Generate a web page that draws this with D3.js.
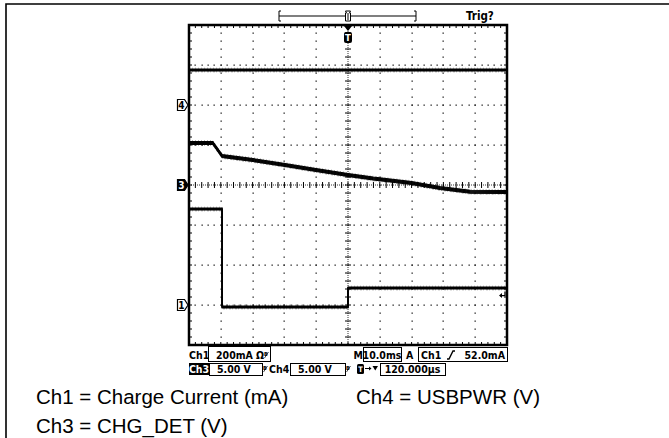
<!DOCTYPE html>
<html><head><meta charset="utf-8">
<script src="https://cdn.jsdelivr.net/npm/d3@7"></script>
<style>
html,body{margin:0;padding:0;background:#fff;}
svg{display:block;}
.ro{font-family:"DejaVu Sans Condensed","DejaVu Sans","Liberation Sans",sans-serif;font-stretch:condensed;font-weight:bold;}
.lg{font-family:"Liberation Sans",Arial,sans-serif;font-size:20.5px;fill:#000;}
</style></head>
<body>
<script>
// ---- data ----
const timeDomain = [-50, 50];            // ms, 10 ms/div, trigger at centre
// Ch1: charge current (mA), 200 mA/div, ground marker 3 div below centre
const ch1Time = [-50, -39.6, -39.6, 0, 0, 50];
const ch1Vals = [480, 480, -10, -10, 85, 85];
// Ch3: CHG_DET (V), 5 V/div, ground marker at centre
const ch3Time = [-50, -42.5, -39.6, -29.9, -19.8, -10.1, 0, 7.9, 20, 28.9, 38.4, 50];
const ch3Vals = [5.25, 5.25, 3.62, 3.12, 2.5, 1.87, 1.25, 0.81, 0.25, -0.37, -0.84, -0.87];
// Ch4: USBPWR (V), 5 V/div, ground marker 2 div above centre
const ch4Time = [-50, 50];
const ch4Vals = [4.375, 4.375];
const channelOffsets = {ch1: -3, ch3: 0, ch4: 2};  // divisions
const channelScales = {ch1: 200, ch3: 5, ch4: 5};  // units per div
const triggerLevel = 52; // mA on Ch1
const readRow1 = ["Ch1", "200mA", "M", "10.0ms", "A", "Ch1", "52.0mA"];
const readRow2 = ["Ch3", "5.00 V", "Ch4", "5.00 V", "120.000µs"];
const legendLines = [["Ch1 = Charge Current (mA)", "Ch4 = USBPWR (V)"], ["Ch3 = CHG_DET (V)"]];

// ---- layout ----
const W = 669, H = 438;
const L = 189, R = 507, T = 25, B = 345;
const svg = d3.select("body").append("svg").attr("width", W).attr("height", H);
svg.append("rect").attr("width", W).attr("height", H).attr("fill", "#fff");

const x = d3.scaleLinear().domain(timeDomain).range([L, R]);
const yDiv = d3.scaleLinear().domain([-4, 4]).range([B, T]);
const yCh = ch => v => yDiv(channelOffsets[ch] + v / channelScales[ch]);

// outer frame
svg.append("path").attr("d", `M6,${H} L6,4 L${W},4`).attr("fill", "none").attr("stroke", "#000").attr("stroke-width", 1.6);

const g = svg.append("g");
// grid dots
const divX = d3.range(-50, 51, 10), divY = d3.range(-4, 5, 1);
const dots = [];
divX.forEach(t => {
  if (t === -50 || t === 50 || t === 0) return;
  d3.range(-4, 4.01, 0.2).forEach(d => dots.push([x(t), yDiv(d)]));
});
divY.forEach(d => {
  if (d === -4 || d === 4 || d === 0) return;
  d3.range(-50, 50.01, 2).forEach(t => dots.push([x(t), yDiv(d)]));
});
g.selectAll("rect.dot").data(dots).join("rect").attr("class", "dot")
  .attr("x", d => Math.round(d[0]) - 0.5).attr("y", d => Math.round(d[1]) - 0.5)
  .attr("width", 1.3).attr("height", 1.3).attr("fill", "#222");

// centre axes: fine dotted line + minor ticks
const cx = x(0), cy = yDiv(0);
g.append("line").attr("x1", cx).attr("x2", cx).attr("y1", T).attr("y2", B)
  .attr("stroke", "#333").attr("stroke-width", 1).attr("stroke-dasharray", "1,1");
g.append("line").attr("x1", L).attr("x2", R).attr("y1", cy).attr("y2", cy)
  .attr("stroke", "#333").attr("stroke-width", 1).attr("stroke-dasharray", "1,1");
const vt = d3.range(-4, 4.01, 0.2), ht = d3.range(-50, 50.01, 2);
g.selectAll("line.vt").data(vt).join("line").attr("class", "vt")
  .attr("x1", cx - 3).attr("x2", cx + 3).attr("y1", d => yDiv(d)).attr("y2", d => yDiv(d))
  .attr("stroke", "#000").attr("stroke-width", 1);
g.selectAll("line.ht").data(ht).join("line").attr("class", "ht")
  .attr("y1", cy - 3).attr("y2", cy + 3).attr("x1", d => x(d)).attr("x2", d => x(d))
  .attr("stroke", "#000").attr("stroke-width", 1);
// border ticks
g.selectAll("line.bt").data(ht).join("line").attr("class", "bt")
  .attr("x1", d => x(d)).attr("x2", d => x(d)).attr("y1", T).attr("y2", T + 3).attr("stroke", "#000");
g.selectAll("line.bb").data(ht).join("line").attr("class", "bb")
  .attr("x1", d => x(d)).attr("x2", d => x(d)).attr("y1", B - 3).attr("y2", B).attr("stroke", "#000");
g.selectAll("line.bl").data(vt).join("line").attr("class", "bl")
  .attr("x1", L).attr("x2", L + 3).attr("y1", d => yDiv(d)).attr("y2", d => yDiv(d)).attr("stroke", "#000");
g.selectAll("line.br").data(vt).join("line").attr("class", "br")
  .attr("x1", R - 3).attr("x2", R).attr("y1", d => yDiv(d)).attr("y2", d => yDiv(d)).attr("stroke", "#000");
// plot border
g.append("rect").attr("x", L).attr("y", T).attr("width", R - L).attr("height", B - T)
  .attr("fill", "none").attr("stroke", "#000").attr("stroke-width", 2.5);

// traces
function trace(times, vals, ch, spread) {
  const pts = times.map((t, i) => [x(t), yCh(ch)(vals[i])]);
  const line = d3.line();
  const tg = g.append("g");
  d3.range(-spread, spread + 0.01, 0.5).forEach(dy => {
    tg.append("path").attr("d", line(pts)).attr("transform", `translate(0,${dy})`)
      .attr("fill", "none").attr("stroke", "#000").attr("stroke-width", 1.1);
  });
  tg.append("path").attr("d", line(pts)).attr("transform", `translate(0,${-spread - 0.8})`)
    .attr("fill", "none").attr("stroke", "#000").attr("stroke-opacity", 0.35).attr("stroke-dasharray", "1,2").attr("stroke-width", 1);
  tg.append("path").attr("d", line(pts)).attr("transform", `translate(0,${spread + 0.8})`)
    .attr("fill", "none").attr("stroke", "#000").attr("stroke-opacity", 0.35).attr("stroke-dasharray", "2,1,1,2").attr("stroke-width", 1);
}
trace(ch4Time, ch4Vals, "ch4", 1);
trace(ch3Time, ch3Vals, "ch3", 1.5);
trace(ch1Time, ch1Vals, "ch1", 1);

function txt(xx, yy, s, anchor, fill) {
  return svg.append("text").attr("class", "ro").attr("x", xx).attr("y", yy).attr("text-anchor", anchor || "start")
    .attr("font-size", 10.5).attr("fill", fill || "#000").text(s);
}

// channel markers
function marker(ch, label, filled) {
  const yy = yDiv(channelOffsets[ch]);
  svg.append("path").attr("d", `M177.5,${yy - 5.5} L184.5,${yy - 5.5} L188,${yy} L184.5,${yy + 5.5} L177.5,${yy + 5.5} Z`)
    .attr("fill", filled ? "#000" : "#fff").attr("stroke", "#000").attr("stroke-width", 1.2);
  txt(181.5, yy + 3.6, label, "middle", filled ? "#fff" : "#000").attr("font-size", 10);
}
marker("ch4", "4", false);
marker("ch3", "3", true);
marker("ch1", "1", false);

// trigger level marker (right)
const ty = yCh("ch1")(triggerLevel);
svg.append("path").attr("d", `M505,${ty - 3} L505,${ty + 1} L500,${ty + 1}`).attr("fill", "none").attr("stroke", "#000").attr("stroke-width", 1.3);
svg.append("path").attr("d", `M499,${ty + 1} L502,${ty - 1.5} L502,${ty + 3.5} Z`).attr("fill", "#000");

// top trigger position bar
const barL = 279, barR = 416, barY = 16;
svg.append("line").attr("x1", barL).attr("x2", barR).attr("y1", barY).attr("y2", barY).attr("stroke", "#000").attr("stroke-width", 1.2);
svg.append("path").attr("d", `M${barL + 2},11 L${barL},11 L${barL},21 L${barL + 2},21`).attr("fill", "none").attr("stroke", "#000");
svg.append("path").attr("d", `M${barR - 2},11 L${barR},11 L${barR},21 L${barR - 2},21`).attr("fill", "none").attr("stroke", "#000");
svg.append("path").attr("d", `M${cx - 2.5},11 L${cx + 2.5},11 L${cx + 1.5},13 L${cx + 2.5},13 L${cx + 2.5},21 L${cx - 2.5},21 L${cx - 2.5},13 L${cx - 1.5},13 Z`)
  .attr("fill", "#fff").attr("stroke", "#000").attr("stroke-width", 1);
svg.append("line").attr("x1", cx).attr("x2", cx).attr("y1", 13).attr("y2", 20).attr("stroke", "#000");
txt(466, 20, "Trig?").attr("font-size", 11.5);
// T pointer below top border
svg.append("path").attr("d", `M${cx - 4},${T + 1} L${cx + 4},${T + 1} L${cx},${T + 6} Z`).attr("fill", "#000");
svg.append("rect").attr("x", cx - 4).attr("y", T + 7).attr("width", 8).attr("height", 11).attr("rx", 2).attr("fill", "#000");
txt(cx, T + 16, "T", "middle", "#fff").attr("font-size", 9.5);

// readouts
const r1 = 359, r2 = 373;
function box(x0, x1, y0, y1) {
  svg.append("rect").attr("x", x0 + 0.5).attr("y", y0 + 0.5).attr("width", x1 - x0).attr("height", y1 - y0)
    .attr("fill", "none").attr("stroke", "#000").attr("stroke-width", 1);
}
function icon(xx, yy) {
  txt(xx, yy - 3, "B").attr("font-size", 5.5);
  svg.append("line").attr("x1", xx + 0.5).attr("x2", xx + 4.5).attr("y1", yy - 1).attr("y2", yy - 7).attr("stroke", "#000").attr("stroke-width", 0.7);
}
txt(189, r1, readRow1[0]);
box(208, 270, 346, 361);
txt(216, r1, readRow1[1]);
txt(256, r1, "Ω");
icon(264, r1);
txt(363, r1, readRow1[2], "end");
box(363, 401, 347, 361);
txt(382, r1, readRow1[3], "middle");
txt(406, r1, readRow1[4]);
box(418, 507, 347, 361);
txt(421, r1, readRow1[5]);
svg.append("path").attr("d", `M447,${r1} L449,${r1} L453,${r1 - 8} L455,${r1 - 8}`).attr("fill", "none").attr("stroke", "#000").attr("stroke-width", 1.4);
txt(505, r1, readRow1[6], "end");

svg.append("rect").attr("x", 189).attr("y", 363).attr("width", 20).attr("height", 12).attr("fill", "#000");
txt(199, r2, readRow2[0], "middle", "#fff");
box(209, 262, 363, 375);
txt(217, r2, readRow2[1]);
icon(263, r2);
txt(269, r2, readRow2[2]);
box(290, 345, 363, 375);
txt(298, r2, readRow2[3]);
icon(346, r2);
svg.append("rect").attr("x", 357).attr("y", 364).attr("width", 7).attr("height", 10).attr("rx", 1.5).attr("fill", "#000");
txt(360.5, r2 - 1.5, "T", "middle", "#fff").attr("font-size", 7.5);
svg.append("line").attr("x1", 365).attr("x2", 370).attr("y1", 368.5).attr("y2", 368.5).attr("stroke", "#000").attr("stroke-width", 1);
svg.append("path").attr("d", `M369,366.5 L371.5,368.5 L369,370.5 Z`).attr("fill", "#000");
svg.append("path").attr("d", `M372.5,366 L378,366 L375.25,370.5 Z`).attr("fill", "#000");
box(380, 445, 363, 375);
txt(412.5, r2, readRow2[4], "middle");

// legend
svg.append("text").attr("class", "lg").attr("x", 36).attr("y", 404).text(legendLines[0][0]);
svg.append("text").attr("class", "lg").attr("x", 356).attr("y", 404).text(legendLines[0][1]);
svg.append("text").attr("class", "lg").attr("x", 36).attr("y", 433).text(legendLines[1][0]);
</script>
</body></html>
